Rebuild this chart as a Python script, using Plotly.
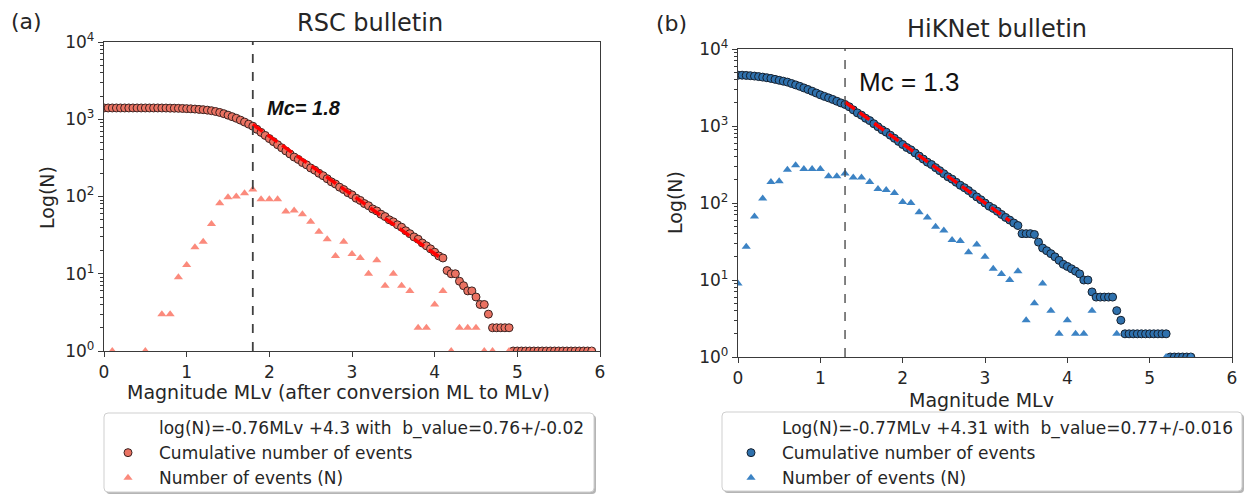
import numpy as np
import plotly.graph_objects as go

W, H = 1246, 496

# ---------------- data: RSC bulletin (panel a) ----------------
rsc_cum_mag = np.round(np.arange(0, 5.9001, 0.05), 2)
rsc_cum_n = [1400, 1400, 1400, 1400, 1400, 1400, 1400, 1400, 1400, 1400, 1400, 1400, 1400, 1400,
             1399, 1396, 1393, 1390, 1385, 1380, 1372, 1365, 1355, 1342,
             1330, 1312, 1290, 1260, 1225, 1180, 1130, 1080, 1030, 975,
             920, 865, 813, 741, 676, 617, 562, 513, 468, 427,
             389, 355, 324, 302, 275, 257, 234, 219, 200, 186,
             170, 155, 145, 132, 123, 112, 105, 95, 89, 81,
             76, 69, 65, 59, 55, 50, 47, 43, 40, 36,
             33, 30, 28, 25, 23, 21, 19, 17, 16, 11,
             10, 10, 8, 7, 6, 6, 5, 4, 4, 3,
             2, 2, 2, 2, 2,
             1, 1, 1, 1, 1, 1, 1, 1, 1, 1, 1, 1, 1, 1, 1, 1, 1, 1, 1, 1]
rsc_hist_mag = [0.1, 0.5, 0.7, 0.8, 0.9, 1.0, 1.1, 1.2, 1.3, 1.4, 1.5, 1.6, 1.7, 1.8, 1.9, 2.0,
                2.1, 2.2, 2.3, 2.4, 2.5, 2.6, 2.7, 2.8, 2.9, 3.0, 3.1, 3.2, 3.3, 3.4, 3.5, 3.6,
                3.7, 3.8, 3.9, 4.0, 4.1, 4.2, 4.3, 4.4, 4.5, 4.6, 4.7, 4.9, 5.9]
rsc_hist_n = [1, 1, 3, 3, 9, 13, 22, 26, 44, 82, 98, 100, 110, 123, 92, 92,
              92, 64, 66, 59, 47, 35, 28, 17, 26, 18, 16, 10, 15, 7, 10, 7,
              6, 2, 2, 4, 6, 1, 2, 2, 2, 1, 1, 1, 1]
rsc_fit_mag = [1.8, 4.1]
rsc_fit_n = [855, 15.3]
rsc_mc = 1.8

# ---------------- data: HiKNet bulletin (panel b) ----------------
hik_cum_mag = np.round(np.arange(0, 5.5001, 0.05), 2)
hik_cum_n = [4570, 4570, 4540, 4500, 4450, 4385, 4315, 4235, 4150, 4035,
             3925, 3820, 3715, 3565, 3420, 3275, 3125, 2980, 2830, 2680,
             2540, 2425, 2320, 2215, 2100, 1995, 1905, 1780, 1620, 1480,
             1380, 1260, 1175, 1070, 977, 891, 832, 759, 692, 631,
             575, 525, 490, 447, 407, 372, 339, 316, 288, 263,
             240, 219, 204, 186, 170, 158, 145, 132, 120, 110,
             100, 91, 85, 78, 71, 65, 60, 55, 51, 40,
             40, 40, 39, 31, 26, 24, 22, 20, 18, 16,
             15, 14, 13, 12, 10, 10, 7, 6, 6, 6,
             6, 6, 4, 3,
             2, 2, 2, 2, 2, 2, 2, 2, 2, 2, 2,
             1, 1, 1, 1, 1, 1]
hik_hist_mag = [0.0, 0.1, 0.2, 0.3, 0.4, 0.5, 0.6, 0.7, 0.8, 0.9, 1.0, 1.1, 1.2, 1.3, 1.4, 1.5,
                1.6, 1.7, 1.8, 1.9, 2.0, 2.1, 2.2, 2.3, 2.4, 2.5, 2.6, 2.7, 2.8, 2.9, 3.0, 3.1,
                3.2, 3.3, 3.4, 3.5, 3.6, 3.7, 3.8, 3.9, 4.0, 4.1, 4.2, 4.3, 4.6, 5.2, 5.5]
hik_hist_n = [9, 27, 67, 114, 187, 192, 270, 310, 276, 276, 276, 222, 222, 241, 214, 214,
              187, 152, 148, 135, 103, 100, 76, 65, 49, 44, 33, 32, 23, 29, 20, 14,
              12, 10, 13, 3, 5, 9, 4, 2, 3, 2, 2, 4, 2, 1, 1]
hik_fit_mag = [1.3, 3.3]
hik_fit_n = [2037, 58.7]
hik_mc = 1.3

titles = ["RSC bulletin", "HiKNet bulletin"]
xtitles = ["Magnitude MLv (after conversion ML to MLv)", "Magnitude MLv"]
fit_labels = ["log(N)=-0.76MLv +4.3 with  b_value=0.76+/-0.02",
              "Log(N)=-0.77MLv +4.31 with  b_value=0.77+/-0.016"]
ytick_vals = [1, 10, 100, 1000, 10000]
ytick_text = ["10<sup>0</sup>", "10<sup>1</sup>", "10<sup>2</sup>", "10<sup>3</sup>", "10<sup>4</sup>"]
xtick_vals = [0, 1, 2, 3, 4, 5, 6]

FONT = "DejaVu Sans"
TXT = "#262626"


def px(x):
    return x / W


def py(y):
    return 1 - y / H


fig = go.Figure()

panels = [
    dict(xa="x", ya="y", leg="legend", cm=rsc_cum_mag, cn=rsc_cum_n, hm=rsc_hist_mag, hn=rsc_hist_n,
         fm=rsc_fit_mag, fn=rsc_fit_n, mc=rsc_mc, cfill="#ea7262", cedge="#3b2220", tri="#fb8a7c",
         label=fit_labels[0]),
    dict(xa="x2", ya="y2", leg="legend2", cm=hik_cum_mag, cn=hik_cum_n, hm=hik_hist_mag, hn=hik_hist_n,
         fm=hik_fit_mag, fn=hik_fit_n, mc=hik_mc, cfill="#2f71ad", cedge="#15202e", tri="#3c83c4",
         label=fit_labels[1]),
]

for p in panels:
    fig.add_trace(go.Scatter(x=[None], y=[None], mode="lines", name=p["label"],
                             line=dict(color="rgba(0,0,0,0)", width=0),
                             xaxis=p["xa"], yaxis=p["ya"], legend=p["leg"], hoverinfo="skip"))
    fig.add_trace(go.Scatter(x=p["cm"], y=p["cn"], mode="markers", name="Cumulative number of events",
                             marker=dict(symbol="circle", size=8, color=p["cfill"],
                                         line=dict(color=p["cedge"], width=1)),
                             xaxis=p["xa"], yaxis=p["ya"], legend=p["leg"]))
    fig.add_trace(go.Scatter(x=p["fm"], y=p["fn"], mode="lines", showlegend=False,
                             line=dict(color="#ff0000", width=3.4, dash="12px,6px"),
                             xaxis=p["xa"], yaxis=p["ya"]))
    fig.add_trace(go.Scatter(x=p["hm"], y=p["hn"], mode="markers", name="Number of events (N)",
                             marker=dict(symbol="triangle-up", size=8, color=p["tri"], line=dict(width=0)),
                             xaxis=p["xa"], yaxis=p["ya"], legend=p["leg"]))

minor_vals = [m * 10 ** d for d in range(4) for m in range(2, 10)]

axis_common = dict(showgrid=False, zeroline=False, showline=True, linecolor="#3a3a3a", linewidth=1.3,
                   mirror=True, ticks="outside", ticklen=5, tickwidth=1.2, tickcolor="#3a3a3a",
                   automargin=False, tickfont=dict(family=FONT, size=17, color=TXT))

fig.update_layout(
    xaxis=dict(domain=[px(104), px(600)], range=[0, 6], tickvals=xtick_vals, anchor="y", **axis_common),
    yaxis=dict(domain=[py(351), py(42)], type="log", range=[0, 4], tickvals=ytick_vals, ticktext=ytick_text,
               anchor="x", minor=dict(tickvals=minor_vals, ticks="outside", ticklen=3, tickcolor="#3a3a3a"),
               **axis_common),
    xaxis2=dict(domain=[px(738), px(1232)], range=[0, 6], tickvals=xtick_vals, anchor="y2", **axis_common),
    yaxis2=dict(domain=[py(357), py(49)], type="log", range=[0, 4], tickvals=ytick_vals, ticktext=ytick_text,
                anchor="x2", minor=dict(tickvals=minor_vals, ticks="outside", ticklen=3, tickcolor="#3a3a3a"),
                **axis_common),
)

shapes = []
for p in panels:
    shapes.append(dict(type="line", xref=p["xa"], yref=p["ya"] + " domain", x0=p["mc"], x1=p["mc"], y0=0, y1=1,
                       line=dict(color="#404040", width=1.8 if p["xa"] == "x" else 1.3, dash="dash"),
                       layer="above"))


def rbox(x0, y0, x1, y1, r=4):
    xs = lambda v: px(v)
    ys = lambda v: py(v)
    return (f"M {xs(x0 + r)} {ys(y0)} L {xs(x1 - r)} {ys(y0)} Q {xs(x1)} {ys(y0)} {xs(x1)} {ys(y0 + r)} "
            f"L {xs(x1)} {ys(y1 - r)} Q {xs(x1)} {ys(y1)} {xs(x1 - r)} {ys(y1)} "
            f"L {xs(x0 + r)} {ys(y1)} Q {xs(x0)} {ys(y1)} {xs(x0)} {ys(y1 - r)} "
            f"L {xs(x0)} {ys(y0 + r)} Q {xs(x0)} {ys(y0)} {xs(x0 + r)} {ys(y0)} Z")


for (x0, y0, x1, y1) in [(104, 413, 594, 492), (722, 412, 1242, 491)]:
    shapes.append(dict(type="path", xref="paper", yref="paper", path=rbox(x0 + 2, y0 + 2, x1 + 2, y1 + 2),
                       fillcolor="#b5b5b5", line=dict(width=0), layer="above"))
    shapes.append(dict(type="path", xref="paper", yref="paper", path=rbox(x0, y0, x1, y1),
                       fillcolor="white", line=dict(color="#cfcfcf", width=1), layer="above"))

fig.update_layout(shapes=shapes)

ann = []


def add_text(text, x, y, size, family=FONT, angle=0, color=TXT, xanchor="center"):
    ann.append(dict(text=text, x=px(x), y=py(y), xref="paper", yref="paper", showarrow=False,
                    xanchor=xanchor, yanchor="middle", textangle=angle,
                    font=dict(family=family, size=size, color=color)))


add_text("(a)", 27, 22, 22)
add_text("(b)", 671, 24, 22)
add_text(titles[0], 370, 23, 24)
add_text(titles[1], 997, 29, 24)
add_text("Log(N)", 47, 197, 19, angle=-90)
add_text("Log(N)", 675, 203, 19, angle=-90)
add_text(xtitles[0], 338, 392, 19)
add_text(xtitles[1], 981, 400, 19)
add_text("<b><i>Mc= 1.8</i></b>", 265, 108, 20, family="Liberation Sans", xanchor="left", color="#111")
add_text("Mc = 1.3", 857, 82, 26, family="Liberation Sans", xanchor="left", color="#111")

fig.update_layout(annotations=ann)

leg_common = dict(bgcolor="rgba(0,0,0,0)", borderwidth=0, font=dict(family=FONT, size=17, color=TXT),
                  itemwidth=52, tracegroupgap=0, xanchor="left", yanchor="bottom", orientation="v",
                  itemclick=False, itemdoubleclick=False)
fig.update_layout(
    legend=dict(x=px(97), y=0, **leg_common),
    legend2=dict(x=px(720), y=0, **leg_common),
)

fig.update_layout(width=W, height=H, margin=dict(l=0, r=0, t=0, b=0), plot_bgcolor="white",
                  paper_bgcolor="white", font=dict(family=FONT, color=TXT))

fig.write_html("out.html", config={"displayModeBar": False})

# remove the default page margin so the figure sits at the window's top-left corner
with open("out.html", "r", encoding="utf-8") as f:
    html = f.read()
html = html.replace("<head>", "<head><style>html,body{margin:0;padding:0;overflow:hidden;}</style>", 1)
with open("out.html", "w", encoding="utf-8") as f:
    f.write(html)
